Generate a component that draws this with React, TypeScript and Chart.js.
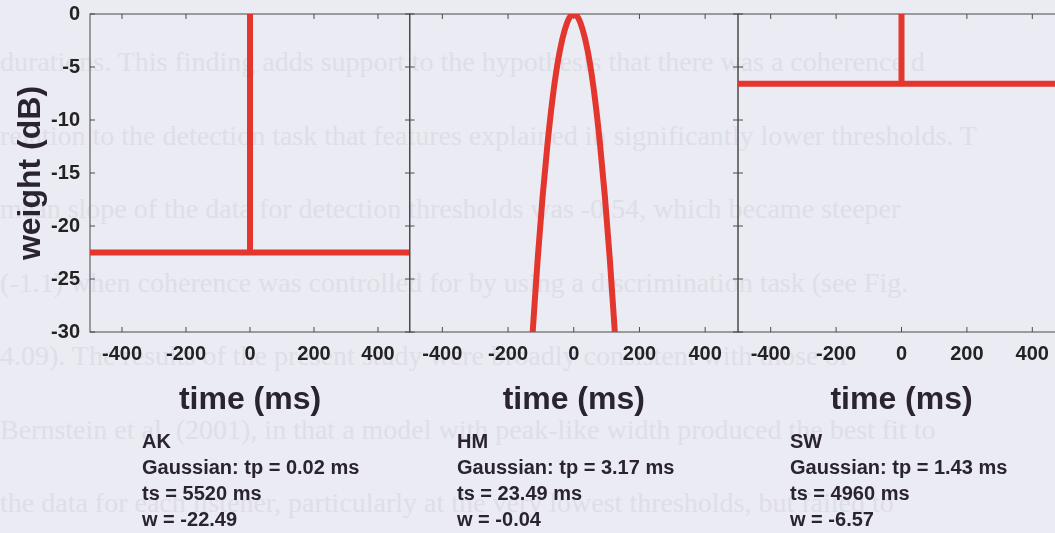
import React, { useEffect, useRef } from "react";
import { Chart, registerables } from "chart.js";

Chart.register(...registerables);

// ---------- data ----------
const xTicks = [-400, -200, 0, 200, 400];
const yTicks = [0, -5, -10, -15, -20, -25, -30];

const akTime = [-500, 0, 0, 0, 500];
const akWeight = [-22.49, -22.49, 0, -22.49, -22.49];

const hmTime = [-125, -110, -95, -80, -65, -50, -35, -20, -10, 0, 10, 20, 35, 50, 65, 80, 95, 110, 125];
const hmWeight = [-30, -23.2, -17.3, -12.3, -8.1, -4.8, -2.4, -0.8, -0.2, -0.04, -0.2, -0.8, -2.4, -4.8, -8.1, -12.3, -17.3, -23.2, -30];

const swTime = [-500, 0, 0, 0, 500];
const swWeight = [-6.57, -6.57, 0, -6.57, -6.57];

const listenerNames = ["AK", "HM", "SW"];
const tpValues = ["0.02", "3.17", "1.43"];
const tsValues = ["5520", "23.49", "4960"];
const wValues = ["-22.49", "-0.04", "-6.57"];

const pageLines = [
  "durations. This finding adds support to the hypothesis that there was a coherence d",
  "relation to the detection task that features explained in significantly lower thresholds. T",
  "mean slope of the data for detection thresholds was -0.54, which became steeper",
  "(-1.1) when coherence was controlled for by using a discrimination task (see Fig.",
  "4.09). The results of the present study were broadly consistent with those of",
  "Bernstein et al. (2001), in that a model with peak-like width produced the best fit to",
  "the data for each listener, particularly at the very lowest thresholds, but failed to",
];

// ---------- styling ----------
const RED = "#e2362e";
const SANS = "'Liberation Sans', Arial, Helvetica, sans-serif";
const SERIF = "'Liberation Serif', 'Times New Roman', serif";
const BG = "#ebebf3";

const panelSeries = [
  { time: akTime, weight: akWeight, smooth: false },
  { time: hmTime, weight: hmWeight, smooth: true },
  { time: swTime, weight: swWeight, smooth: false },
];

const panelBoxes = [
  { left: 0, width: 412, padL: 0, padR: 2, showY: true, noteLeft: 142 },
  { left: 400, width: 350, padL: 9.5, padR: 12, showY: false, noteLeft: 457 },
  { left: 728, width: 345, padL: 10, padR: 8, showY: false, noteLeft: 790 },
];

const CANVAS_H = 533;

const framePlugin = {
  id: "frameTicks",
  beforeDatasetsDraw(chart: any) {
    const { ctx, chartArea: a, scales } = chart;
    const xs = scales.x;
    const ys = scales.y;
    ctx.save();
    ctx.strokeStyle = "#4a4a4a";
    ctx.lineWidth = 1;
    ctx.strokeRect(a.left, a.top, a.right - a.left, a.bottom - a.top);
    const L = 5;
    ctx.beginPath();
    xTicks.forEach((v) => {
      const p = xs.getPixelForValue(v);
      ctx.moveTo(p, a.bottom);
      ctx.lineTo(p, a.bottom - L);
      ctx.moveTo(p, a.top);
      ctx.lineTo(p, a.top + L);
    });
    yTicks.forEach((v) => {
      const p = ys.getPixelForValue(v);
      ctx.moveTo(a.left, p);
      ctx.lineTo(a.left + L, p);
      ctx.moveTo(a.right, p);
      ctx.lineTo(a.right - L, p);
    });
    ctx.stroke();
    ctx.restore();
  },
};

function zeroPadding(s: any) {
  s.paddingTop = 0;
  s.paddingBottom = 0;
  s.paddingLeft = 0;
  s.paddingRight = 0;
}

function Panel({ index }: { index: number }) {
  const ref = useRef<HTMLCanvasElement | null>(null);
  const box = panelBoxes[index];
  const series = panelSeries[index];

  useEffect(() => {
    if (!ref.current) return;
    const chart = new Chart(ref.current, {
      type: "line",
      data: {
        datasets: [
          {
            data: series.time.map((t, i) => ({ x: t, y: series.weight[i] })),
            borderColor: RED,
            borderWidth: 6,
            pointRadius: 0,
            fill: false,
            borderCapStyle: "round",
            borderJoinStyle: "round",
            cubicInterpolationMode: series.smooth ? "monotone" : "default",
            tension: 0,
          } as any,
        ],
      },
      options: {
        responsive: false,
        animation: false,
        devicePixelRatio: 1,
        layout: { padding: { top: 14, left: box.padL, right: box.padR, bottom: 0 } },
        plugins: { legend: { display: false }, tooltip: { enabled: false } },
        scales: {
          x: {
            type: "linear",
            position: "bottom",
            min: -500,
            max: 500,
            afterBuildTicks: (s: any) => {
              s.ticks = xTicks.map((v) => ({ value: v }));
            },
            afterFit: (s: any) => {
              s.height = 201;
              zeroPadding(s);
            },
            grid: { display: false, drawTicks: false },
            border: { display: false },
            ticks: {
              padding: 10,
              color: "#222",
              autoSkip: false,
              maxRotation: 0,
              font: { family: SANS, size: 20, weight: "bold" },
            },
            title: {
              display: true,
              text: "time (ms)",
              color: "#2a2430",
              font: { family: SANS, size: 32, weight: "bold" },
              padding: { top: 0, bottom: 114 },
            },
          },
          y: {
            type: "linear",
            display: box.showY,
            min: -30,
            max: 0,
            afterBuildTicks: (s: any) => {
              s.ticks = yTicks.map((v) => ({ value: v }));
            },
            afterFit: (s: any) => {
              s.width = box.showY ? 90 : 0;
              zeroPadding(s);
            },
            grid: { display: false, drawTicks: false },
            border: { display: false },
            ticks: {
              padding: 10,
              color: "#222",
              font: { family: SANS, size: 20, weight: "bold" },
            },
            title: {
              display: true,
              text: "weight (dB)",
              color: "#2a2430",
              font: { family: SANS, size: 32, weight: "bold" },
              padding: { top: 12, bottom: 0 },
            },
          },
        },
      } as any,
      plugins: [framePlugin],
    });
    return () => chart.destroy();
  }, []);

  return (
    <canvas
      ref={ref}
      width={box.width}
      height={CANVAS_H}
      style={{ position: "absolute", left: box.left, top: 0, width: box.width, height: CANVAS_H }}
    />
  );
}

export default function App() {
  return (
    <div
      style={{
        position: "fixed",
        left: 0,
        top: 0,
        width: 1055,
        height: 533,
        overflow: "hidden",
        background: BG,
      }}
    >
      {pageLines.map((line, i) => (
        <div
          key={"p" + i}
          style={{
            position: "absolute",
            left: 0,
            top: 62 + i * 73.5 - 16,
            whiteSpace: "nowrap",
            fontFamily: SERIF,
            fontSize: 28,
            lineHeight: "32px",
            color: "#dedee8",
          }}
        >
          {line}
        </div>
      ))}
      {panelBoxes.map((_, i) => (
        <Panel key={i} index={i} />
      ))}
      {panelBoxes.map((box, i) => (
        <div
          key={"n" + i}
          style={{
            position: "absolute",
            left: box.noteLeft,
            top: 428,
            fontFamily: SANS,
            fontWeight: "bold",
            fontSize: 20,
            lineHeight: "26px",
            color: "#2a2430",
            whiteSpace: "nowrap",
          }}
        >
          <div>{listenerNames[i]}</div>
          <div>{"Gaussian: tp = " + tpValues[i] + " ms"}</div>
          <div>{"ts = " + tsValues[i] + " ms"}</div>
          <div>{"w = " + wValues[i]}</div>
        </div>
      ))}
    </div>
  );
}
